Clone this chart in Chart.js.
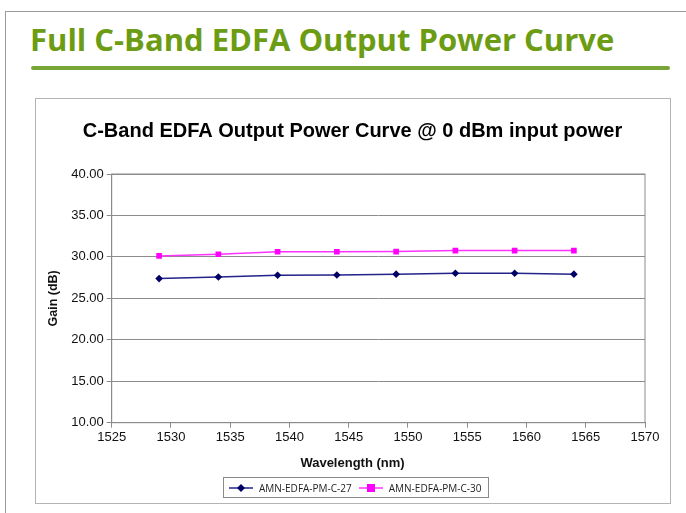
<!DOCTYPE html>
<html>
<head>
<meta charset="utf-8">
<title>Full C-Band EDFA Output Power Curve</title>
<script src="https://cdn.jsdelivr.net/npm/chart.js@4.4.0/dist/chart.umd.min.js"></script>
<style>
  html, body { margin: 0; padding: 0; background: #fff; }
  #page { position: relative; width: 686px; height: 513px; overflow: hidden; }
  .slide-frame { position: absolute; left: 5px; top: 11px; width: 700px; height: 520px; border: 1px solid #9a9a9a; box-sizing: border-box; }
  .slide-title { position: absolute; left: 30px; top: 24px; margin: 0; font-family: "Open Sans", sans-serif; font-weight: 700; font-size: 31px; line-height: 1; color: #6b9c14; white-space: nowrap; }
  .slide-rule { position: absolute; left: 31px; top: 66px; width: 639px; height: 4px; border-radius: 2px; background: #77a636; }
  .chart-box { position: absolute; left: 35px; top: 98px; width: 636px; height: 406px; border: 1px solid #b4b4b4; box-sizing: border-box; }
  #chart { position: absolute; left: 0; top: 0; }
  .legend { position: absolute; left: 223px; top: 477px; height: 21px; border: 1px solid #8a8a8a; box-sizing: border-box; display: flex; align-items: center; padding: 0 6px 0 4px; font-family: "Open Sans", sans-serif; font-size: 10px; color: #222; white-space: nowrap; }
  .legend-item { display: flex; align-items: center; margin-right: 6px; }
  .legend-item:last-child { margin-right: 0; }
  .legend-item canvas { margin-right: 5px; }
</style>
</head>
<body>
<div id="page">
  <div class="slide-frame"></div>
  <h1 class="slide-title">Full C-Band EDFA Output Power Curve</h1>
  <div class="slide-rule"></div>
  <div class="chart-box"></div>
  <canvas id="chart" width="686" height="513"></canvas>
  <div class="legend" id="legend"></div>
</div>

<script>
/* =====================================
   DATA
======================================== */

const wavelengths = [1529, 1534, 1539, 1544, 1549, 1554, 1559, 1564];
const gainC27 = [27.38, 27.58, 27.79, 27.82, 27.92, 28.03, 28.03, 27.92];
const gainC30 = [30.12, 30.32, 30.62, 30.62, 30.64, 30.76, 30.76, 30.76];

const seriesNames = ["AMN-EDFA-PM-C-27", "AMN-EDFA-PM-C-30"];
const xTicks = [1525, 1530, 1535, 1540, 1545, 1550, 1555, 1560, 1565, 1570];
const yTicks = [10, 15, 20, 25, 30, 35, 40];

const chartTitle = "C-Band EDFA Output Power Curve @ 0 dBm input power";
const xTitle = "Wavelength (nm)";
const yTitle = "Gain (dB)";

/* =====================================
   CHART
======================================== */

const chartFont = "'Liberation Sans', Arial, sans-serif";
const gridGray = "#8c8c8c";
const boxCenterX = 352.5; // middle of the white chart box

function toPoints(values) {
    return wavelengths.map((w, i) => ({ x: w, y: values[i] }));
}

// grey frame round the plot area
const plotFrame = {
    id: "plotFrame",
    afterDraw(chart) {
        const a = chart.chartArea;
        const ctx = chart.ctx;
        ctx.save();
        ctx.strokeStyle = gridGray;
        ctx.lineWidth = 1;
        ctx.strokeRect(a.left, a.top, a.right - a.left, a.bottom - a.top);
        ctx.restore();
    }
};

// chart title and x title sit centred on the box, not on the plot
const boxTitles = {
    id: "boxTitles",
    afterDraw(chart) {
        const ctx = chart.ctx;
        ctx.save();
        ctx.fillStyle = "#000";
        ctx.textAlign = "center";
        ctx.textBaseline = "alphabetic";
        ctx.font = "bold 20px " + chartFont;
        ctx.fillText(chartTitle, boxCenterX, 137);
        ctx.fillStyle = "#111";
        ctx.font = "bold 13px " + chartFont;
        ctx.fillText(xTitle, boxCenterX, 467);
        ctx.restore();
    }
};

const styles = [
    { line: "#23238a", point: "#000066", pointStyle: "rectRot", radius: 3.8 },
    { line: "#ff33ff", point: "#ff00ff", pointStyle: "rect", radius: 4 }
];

const chartData = {
    datasets: [gainC27, gainC30].map((values, i) => ({
        label: seriesNames[i],
        data: toPoints(values),
        borderColor: styles[i].line,
        borderWidth: 1.5,
        backgroundColor: styles[i].point,
        pointBackgroundColor: styles[i].point,
        pointBorderColor: styles[i].point,
        pointStyle: styles[i].pointStyle,
        pointRadius: styles[i].radius,
        pointBorderWidth: 0,
        tension: 0
    }))
};

const chartOptions = {
    responsive: false,
    animation: false,
    layout: {
        padding: { top: 174, left: 40, right: 41, bottom: 40 }
    },
    scales: {
        x: {
            type: "linear",
            min: xTicks[0],
            max: xTicks[xTicks.length - 1],
            afterBuildTicks: scale => { scale.ticks = xTicks.map(v => ({ value: v })); },
            afterFit: scale => { scale.height = 50.3; },
            ticks: {
                color: "#111",
                font: { family: chartFont, size: 13 },
                padding: 2,
                maxRotation: 0,
                callback: v => String(v)
            },
            grid: { drawOnChartArea: false, color: gridGray, tickLength: 5 },
            border: { color: gridGray }
        },
        y: {
            min: yTicks[0],
            max: yTicks[yTicks.length - 1],
            afterBuildTicks: scale => { scale.ticks = yTicks.map(v => ({ value: v })); },
            afterFit: scale => { scale.width = 71.7; },
            ticks: {
                color: "#111",
                font: { family: chartFont, size: 13 },
                padding: 3,
                callback: v => v.toFixed(2)
            },
            grid: { color: gridGray, tickLength: 5 },
            border: { color: gridGray },
            title: {
                display: true,
                text: yTitle,
                color: "#111",
                font: { family: chartFont, size: 12.5, weight: "bold" },
                padding: { top: 6, bottom: 0 }
            }
        }
    },
    plugins: {
        legend: { display: false },
        tooltip: { enabled: false },
        title: { display: false }
    }
};

const edfaChart = new Chart(document.getElementById("chart"), {
    type: "line",
    data: chartData,
    options: chartOptions,
    plugins: [plotFrame, boxTitles]
});

/* =====================================
   LEGEND
======================================== */

const legendBox = document.getElementById("legend");

chartData.datasets.forEach(ds => {
    const item = document.createElement("div");
    item.className = "legend-item";

    const sym = document.createElement("canvas");
    sym.width = 26;
    sym.height = 10;
    const c = sym.getContext("2d");
    c.strokeStyle = ds.borderColor;
    c.lineWidth = 1.5;
    c.beginPath();
    c.moveTo(1, 5);
    c.lineTo(25, 5);
    c.stroke();
    c.fillStyle = ds.pointBackgroundColor;
    if (ds.pointStyle === "rect") {
        c.fillRect(9, 1, 8, 8);
    } else {
        c.beginPath();
        c.moveTo(13, 1);
        c.lineTo(17, 5);
        c.lineTo(13, 9);
        c.lineTo(9, 5);
        c.closePath();
        c.fill();
    }

    const label = document.createElement("span");
    label.textContent = ds.label;

    item.appendChild(sym);
    item.appendChild(label);
    legendBox.appendChild(item);
});
</script>
</body>
</html>
